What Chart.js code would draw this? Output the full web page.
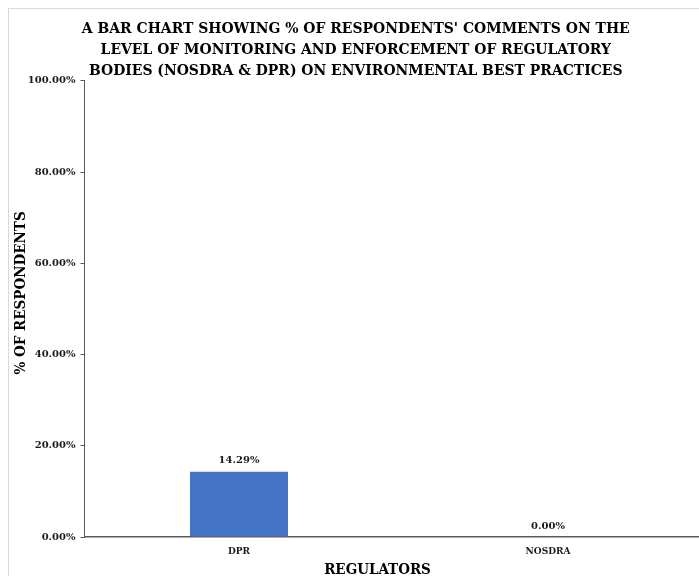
<!DOCTYPE html>
<html>
<head>
<meta charset="utf-8">
<script src="https://cdn.jsdelivr.net/npm/chart.js@4/dist/chart.umd.min.js"></script>
<style>
  html, body { margin: 0; padding: 0; background: #fff; }
  #page { position: relative; width: 699px; height: 576px; overflow: hidden; background: #fff; }
  /* chart frame is cropped on the right and bottom, like the source image */
  #frame {
    position: absolute; left: 8px; top: 8px; width: 704px; height: 600px;
    border-left: 1px solid #d9d9d9; border-top: 1px solid #d9d9d9;
  }
  #frame canvas { position: absolute; left: 0; top: 0; }
</style>
</head>
<body>
<div id="page">
  <div id="frame">
    <canvas id="chart" width="704" height="576" style="width:704px;height:576px"></canvas>
  </div>
</div>
<script>
  const titleLines = [
    "A BAR CHART SHOWING % OF RESPONDENTS' COMMENTS ON THE",
    "LEVEL OF MONITORING AND ENFORCEMENT OF REGULATORY",
    "BODIES (NOSDRA & DPR) ON ENVIRONMENTAL BEST PRACTICES",
  ];
  const categories = ["DPR", "NOSDRA"];
  const percentRespondents = [14.29, 0.00];
  const yTicks = [0, 20, 40, 60, 80, 100];
  const xAxisTitle = "REGULATORS";
  const yAxisTitle = "% OF RESPONDENTS";

  const CONDENSED = "'DejaVu Serif Condensed', 'DejaVu Serif', serif";
  const WIDE = "'DejaVu Serif', serif";
  const INK = "#1a1a1a";
  const AXIS = "#595959";

  function pct(v) {
    return Number(v).toFixed(2) + "%";
  }

  // Excel-style value labels sitting just above each bar
  const barLabels = {
    id: "barLabels",
    afterDatasetsDraw: function (chart) {
      const ctx = chart.ctx;
      const meta = chart.getDatasetMeta(0);
      ctx.save();
      ctx.font = "bold 10px " + WIDE;
      ctx.fillStyle = INK;
      ctx.textAlign = "center";
      ctx.textBaseline = "middle";
      meta.data.forEach(function (bar, i) {
        ctx.fillText(pct(percentRespondents[i]), bar.x, bar.y - 11);
      });
      ctx.restore();
    },
  };

  // The source has both axis titles nudged off the plot centre, which the
  // built-in scale titles can't do, so they're drawn here instead.
  const axisTitles = {
    id: "axisTitles",
    afterDraw: function (chart) {
      const ctx = chart.ctx;
      const area = chart.chartArea;
      const cx = (area.left + area.right) / 2;
      const cy = (area.top + area.bottom) / 2;
      ctx.save();
      ctx.font = "bold 15px " + CONDENSED;
      ctx.fillStyle = "#000";
      ctx.textAlign = "center";
      ctx.textBaseline = "middle";
      ctx.fillText(xAxisTitle, cx - 16, chart.height - 15);
      ctx.translate(12, cy - 16);
      ctx.rotate(-Math.PI / 2);
      ctx.fillText(yAxisTitle, 0, 0);
      ctx.restore();
    },
  };

  new Chart(document.getElementById("chart"), {
    type: "bar",
    data: {
      labels: categories,
      datasets: [
        {
          label: "% of respondents",
          data: percentRespondents,
          backgroundColor: "#4472C4",
          borderWidth: 0,
          barPercentage: 0.317,
          categoryPercentage: 1,
        },
      ],
    },
    options: {
      responsive: false,
      animation: false,
      layout: { padding: { left: 0, right: 10.5, top: 0, bottom: 0 } },
      plugins: {
        legend: { display: false },
        tooltip: { enabled: false },
        title: {
          display: true,
          text: titleLines,
          color: "#000",
          font: { family: CONDENSED, size: 15.5, weight: "bold", lineHeight: 1.33 },
          padding: { top: 10, bottom: 0 },
        },
      },
      scales: {
        x: {
          grid: { display: false },
          border: { display: true, color: AXIS, width: 1.5 },
          ticks: {
            color: INK,
            padding: 0,
            font: { family: CONDENSED, size: 10, weight: "bold" },
          },
          afterFit: function (scale) { scale.height = 48; },
        },
        y: {
          min: 0,
          max: 100,
          grid: {
            drawOnChartArea: false,
            drawTicks: true,
            tickLength: 4,
            tickColor: AXIS,
          },
          border: { display: true, color: AXIS, width: 1 },
          afterBuildTicks: function (scale) {
            scale.ticks = yTicks.map(function (v) { return { value: v }; });
          },
          ticks: {
            color: INK,
            padding: 5,
            font: { family: WIDE, size: 10, weight: "bold" },
            callback: function (value) { return pct(value); },
          },
          afterFit: function (scale) { scale.width = 75.5; },
        },
      },
    },
    plugins: [barLabels, axisTitles],
  });
</script>
</body>
</html>
